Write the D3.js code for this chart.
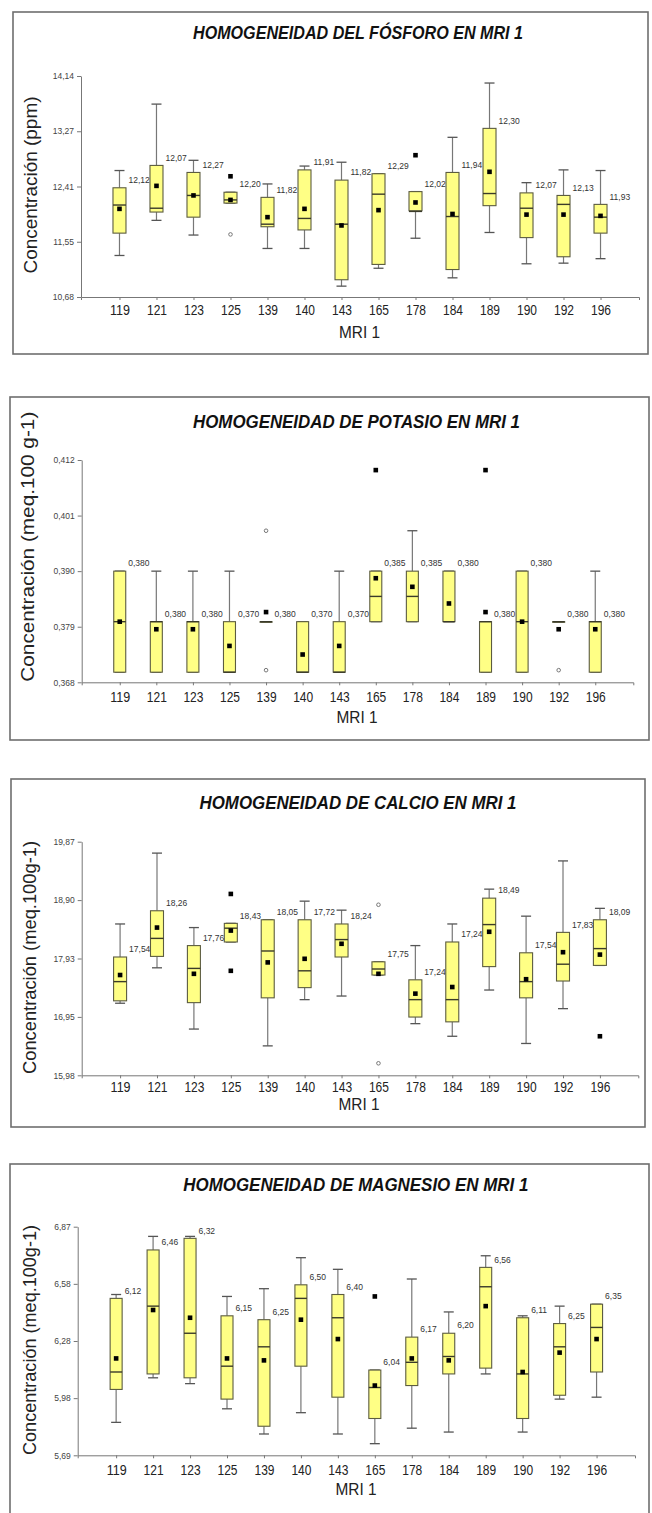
<!DOCTYPE html>
<html><head><meta charset="utf-8">
<script src="https://cdn.jsdelivr.net/npm/d3@7/dist/d3.min.js"></script>
<style>body{margin:0;background:#fff} svg{display:block}</style>
</head><body>
<svg id="chart" width="652" height="1513"></svg>
<script>
// ---------------- DATA ----------------
const categories = ["119","121","123","125","139","140","143","165","178","184","189","190","192","196"];

// Fósforo (ppm)
const fosforoTicks      = [10.68, 11.545, 12.41, 13.275, 14.14];
const fosforoTickLabels = ["10,68","11,55","12,41","13,27","14,14"];
const fosforoLow    = [11.33,11.88,11.65,12.15,11.44,11.44,10.85,11.13,11.60,10.98,11.69,11.20,11.21,11.28];
const fosforoQ1     = [11.68,12.01,11.93,12.15,11.78,11.73,10.95,11.19,12.03,11.11,12.11,11.61,11.31,11.68];
const fosforoMedian = [12.12,12.07,12.27,12.20,11.82,11.91,11.82,12.29,12.02,11.94,12.30,12.07,12.13,11.93];
const fosforoQ3     = [12.39,12.74,12.63,12.32,12.24,12.67,12.51,12.61,12.33,12.63,13.32,12.31,12.27,12.13];
const fosforoHigh   = [12.66,13.70,12.82,12.32,12.45,12.73,12.79,12.61,12.33,13.18,14.03,12.47,12.67,12.66];
const fosforoMean   = [12.06,12.42,12.27,12.20,11.93,12.06,11.80,12.04,12.16,11.98,12.64,11.97,11.97,11.95];
const fosforoOutliers = [["125",12.57,"far"],["125",11.66,"near"],["178",12.90,"far"]];

// Potasio (meq.100 g-1)
const potasioTicks      = [0.368, 0.379, 0.390, 0.401, 0.412];
const potasioTickLabels = ["0,368","0,379","0,390","0,401","0,412"];
const potasioLow    = [0.370,0.370,0.370,0.370,0.380,0.370,0.370,0.380,0.380,0.380,0.370,0.370,0.380,0.370];
const potasioQ1     = [0.370,0.370,0.370,0.370,0.380,0.370,0.370,0.380,0.380,0.380,0.370,0.370,0.380,0.370];
const potasioMedian = [0.380,0.380,0.380,0.370,0.380,0.370,0.370,0.385,0.385,0.380,0.380,0.380,0.380,0.380];
const potasioQ3     = [0.390,0.380,0.380,0.380,0.380,0.380,0.380,0.390,0.390,0.390,0.380,0.390,0.380,0.380];
const potasioHigh   = [0.390,0.390,0.390,0.390,0.380,0.380,0.390,0.390,0.398,0.390,0.380,0.390,0.380,0.390];
const potasioMean   = [0.380,0.3785,0.3785,0.3752,0.3819,0.3735,0.3752,0.3886,0.3869,0.3836,0.3819,0.380,0.3785,0.3785];
const potasioOutliers = [["139",0.398,"near"],["139",0.3704,"near"],["165",0.410,"far"],["189",0.410,"far"],["192",0.3704,"near"]];

// Calcio (meq.100g-1)
const calcioTicks      = [15.98, 16.9525, 17.925, 18.8975, 19.87];
const calcioTickLabels = ["15,98","16,95","17,93","18,90","19,87"];
const calcioLow    = [17.18,17.77,16.75,18.20,16.47,17.24,17.30,17.65,16.84,16.63,17.40,16.51,17.09,17.81];
const calcioQ1     = [17.22,17.96,17.19,18.20,17.27,17.44,17.95,17.65,16.95,16.87,17.79,17.27,17.55,17.81];
const calcioMedian = [17.54,18.26,17.76,18.43,18.05,17.72,18.24,17.75,17.24,17.24,18.49,17.54,17.83,18.09];
const calcioQ3     = [17.95,18.72,18.14,18.51,18.57,18.57,18.50,17.87,17.57,18.20,18.93,18.02,18.36,18.57];
const calcioHigh   = [18.50,19.68,18.44,18.51,18.57,18.88,18.73,17.87,18.14,18.50,19.08,18.63,19.55,18.76];
const calcioMean   = [17.65,18.44,17.67,18.39,17.86,17.92,18.17,17.67,17.34,17.45,18.37,17.58,18.03,17.99];
const calcioOutliers = [["125",19.00,"far"],["125",17.72,"far"],["165",18.82,"near"],["165",16.18,"near"],["196",16.63,"far"]];

// Magnesio (meq.100g-1)
const magnesioTicks      = [5.69, 5.985, 6.28, 6.575, 6.87];
const magnesioTickLabels = ["5,69","5,98","6,28","6,58","6,87"];
const magnesioLow    = [5.86,6.09,6.06,5.93,5.80,5.91,5.80,5.75,5.83,5.81,6.11,5.81,5.98,5.99];
const magnesioQ1     = [6.03,6.11,6.09,5.98,5.84,6.15,5.99,5.88,6.05,6.11,6.14,5.88,6.00,6.12];
const magnesioMedian = [6.12,6.46,6.32,6.15,6.25,6.50,6.40,6.04,6.17,6.20,6.56,6.11,6.25,6.35];
const magnesioQ3     = [6.50,6.75,6.81,6.41,6.39,6.57,6.52,6.13,6.30,6.32,6.66,6.40,6.37,6.47];
const magnesioHigh   = [6.52,6.82,6.82,6.51,6.55,6.71,6.65,6.13,6.60,6.43,6.72,6.41,6.46,6.47];
const magnesioMean   = [6.19,6.44,6.40,6.19,6.18,6.39,6.29,6.05,6.19,6.18,6.46,6.12,6.22,6.29];
const magnesioOutliers = [["165",6.51,"far"]];

const titles  = ["HOMOGENEIDAD DEL FÓSFORO EN MRI 1","HOMOGENEIDAD DE POTASIO EN MRI 1","HOMOGENEIDAD DE CALCIO EN MRI 1","HOMOGENEIDAD DE MAGNESIO EN MRI 1"];
const yLabels = ["Concentración (ppm)","Concentración (meq.100 g-1)","Concentración (meq.100g-1)","Concentración (meq.100g-1)"];
const xLabel  = "MRI 1";

// ---------------- LAYOUT ----------------
const layouts = [
  {frame:[13,12,648,354],  x0:81,  x1:639,  yTop:76,    yBot:297,    titleY:39.3,  titleX:358,  titleLen:330, yLabX:36.7, yLabY:185,   yLabLen:177, yLabSize:18, xLabY:338.3, xLabX:359.5, tickPad:5,   bw:13, decimals:2},
  {frame:[10,397,649,740], x0:81.7,x1:633.3,yTop:460,   yBot:682.3,  titleY:428.3, titleX:356.5,titleLen:327, yLabX:34.3, yLabY:546.7, yLabLen:270, yLabSize:19, xLabY:723.3, xLabX:357,   tickPad:6.5, bw:12, decimals:3},
  {frame:[11,779,645,1127],x0:81.7,x1:638.3,yTop:841.7, yBot:1075.3, titleY:809.3, titleX:358,  titleLen:317, yLabX:36,   yLabY:957.5, yLabLen:233, yLabSize:18, xLabY:1109.5,xLabX:359,   tickPad:4,   bw:13, decimals:2},
  {frame:[10,1164,649,1540],x0:77.7,x1:635, yTop:1226.7,yBot:1455.3, titleY:1190.7,titleX:355.8,titleLen:345, yLabX:36,   yLabY:1340,  yLabLen:230, yLabSize:18, xLabY:1495,  xLabX:356,   tickPad:7,   bw:12, decimals:2}
];

const panels = [
  {ticks:fosforoTicks, tickLabels:fosforoTickLabels, low:fosforoLow, q1:fosforoQ1, med:fosforoMedian, q3:fosforoQ3, high:fosforoHigh, mean:fosforoMean, outliers:fosforoOutliers},
  {ticks:potasioTicks, tickLabels:potasioTickLabels, low:potasioLow, q1:potasioQ1, med:potasioMedian, q3:potasioQ3, high:potasioHigh, mean:potasioMean, outliers:potasioOutliers},
  {ticks:calcioTicks, tickLabels:calcioTickLabels, low:calcioLow, q1:calcioQ1, med:calcioMedian, q3:calcioQ3, high:calcioHigh, mean:calcioMean, outliers:calcioOutliers},
  {ticks:magnesioTicks, tickLabels:magnesioTickLabels, low:magnesioLow, q1:magnesioQ1, med:magnesioMedian, q3:magnesioQ3, high:magnesioHigh, mean:magnesioMean, outliers:magnesioOutliers}
];

// ---------------- DRAW ----------------
const FONT = "'Liberation Sans', Arial, Helvetica, sans-serif";
const svg = d3.select("#chart");

panels.forEach((p, pi) => {
  const L = layouts[pi];
  const g = svg.append("g");

  g.append("rect")
    .attr("x", L.frame[0]).attr("y", L.frame[1])
    .attr("width", L.frame[2] - L.frame[0]).attr("height", L.frame[3] - L.frame[1])
    .attr("fill", "none").attr("stroke", "#6e6e6e").attr("stroke-width", 1.6);

  const x = d3.scalePoint().domain(categories).range([L.x0, L.x1]).padding(1.04);
  const y = d3.scaleLinear().domain([p.ticks[0], p.ticks[p.ticks.length - 1]]).range([L.yBot, L.yTop]);

  // title
  g.append("text")
    .attr("x", L.titleX).attr("y", L.titleY)
    .attr("text-anchor", "middle")
    .attr("font-family", FONT).attr("font-size", 17.5)
    .attr("font-weight", "bold").attr("font-style", "italic")
    .attr("fill", "#111")
    .attr("textLength", L.titleLen).attr("lengthAdjust", "spacingAndGlyphs")
    .text(titles[pi]);

  // y axis
  const ya = g.append("g").attr("transform", `translate(${L.x0},0)`)
    .call(d3.axisLeft(y).tickValues(p.ticks).tickFormat((d, i) => p.tickLabels[i])
      .tickSize(4).tickSizeOuter(0).tickPadding(3));
  ya.select(".domain").attr("stroke", "#777");
  ya.selectAll(".tick line").attr("stroke", "#777");
  ya.selectAll(".tick text").attr("font-family", FONT).attr("font-size", 8.5).attr("fill", "#444");

  // x axis
  const xa = g.append("g").attr("transform", `translate(0,${L.yBot})`)
    .call(d3.axisBottom(x).tickSize(3).tickSizeOuter(3).tickPadding(L.tickPad));
  xa.select(".domain").attr("stroke", "#777");
  xa.selectAll(".tick line").attr("stroke", "#777");
  xa.selectAll(".tick text").attr("font-family", FONT).attr("font-size", 14).attr("fill", "#222")
    .attr("textLength", 20).attr("lengthAdjust", "spacingAndGlyphs");

  // axis titles
  g.append("text")
    .attr("transform", `translate(${L.yLabX},${L.yLabY}) rotate(-90)`)
    .attr("text-anchor", "middle")
    .attr("font-family", FONT).attr("font-size", L.yLabSize).attr("fill", "#222")
    .attr("textLength", L.yLabLen).attr("lengthAdjust", "spacingAndGlyphs")
    .text(yLabels[pi]);
  g.append("text")
    .attr("x", L.xLabX).attr("y", L.xLabY)
    .attr("text-anchor", "middle")
    .attr("font-family", FONT).attr("font-size", 17).attr("fill", "#222")
    .attr("textLength", 41).attr("lengthAdjust", "spacingAndGlyphs")
    .text(xLabel);

  const rows = categories.map((c, i) => ({c, low:p.low[i], q1:p.q1[i], med:p.med[i], q3:p.q3[i], high:p.high[i], mean:p.mean[i]}));
  const bw = L.bw, cap = 10;
  const fmt = v => d3.format("." + L.decimals + "f")(v).replace(".", ",");

  const box = g.append("g").selectAll("g").data(rows).join("g");
  // whiskers
  box.append("line").attr("x1", d => x(d.c)).attr("x2", d => x(d.c))
    .attr("y1", d => y(d.high)).attr("y2", d => y(d.q3)).attr("stroke", "#777").attr("stroke-width", 1.2);
  box.append("line").attr("x1", d => x(d.c)).attr("x2", d => x(d.c))
    .attr("y1", d => y(d.q1)).attr("y2", d => y(d.low)).attr("stroke", "#777").attr("stroke-width", 1.2);
  box.append("line").attr("x1", d => x(d.c) - cap/2).attr("x2", d => x(d.c) + cap/2)
    .attr("y1", d => y(d.high)).attr("y2", d => y(d.high)).attr("stroke", "#555").attr("stroke-width", 1.3);
  box.append("line").attr("x1", d => x(d.c) - cap/2).attr("x2", d => x(d.c) + cap/2)
    .attr("y1", d => y(d.low)).attr("y2", d => y(d.low)).attr("stroke", "#555").attr("stroke-width", 1.3);
  // box
  box.append("rect")
    .attr("x", d => x(d.c) - bw/2).attr("width", bw)
    .attr("y", d => y(d.q3)).attr("height", d => Math.max(y(d.q1) - y(d.q3), 0.6))
    .attr("fill", "#ffff85").attr("stroke", "#5c5c40").attr("stroke-width", 1.1);
  // median
  box.append("line").attr("x1", d => x(d.c) - bw/2).attr("x2", d => x(d.c) + bw/2)
    .attr("y1", d => y(d.med)).attr("y2", d => y(d.med)).attr("stroke", "#3a3a2a").attr("stroke-width", 1.4);
  // mean
  box.append("rect").attr("x", d => x(d.c) - 2.3).attr("y", d => y(d.mean) - 2.3)
    .attr("width", 4.6).attr("height", 4.6).attr("fill", "#000");
  // median label
  box.append("text")
    .attr("x", d => x(d.c) + bw/2 + 2.5).attr("y", d => y(d.q3) - 4.8)
    .attr("font-family", FONT).attr("font-size", 8.5).attr("fill", "#333")
    .text(d => fmt(d.med));

  // outliers
  g.append("g").selectAll("g").data(p.outliers).join(enter => {
    const o = enter.append("g");
    o.filter(d => d[2] === "far").append("rect")
      .attr("x", d => x(d[0]) - 2.3).attr("y", d => y(d[1]) - 2.3)
      .attr("width", 4.6).attr("height", 4.6).attr("fill", "#000");
    o.filter(d => d[2] === "near").append("circle")
      .attr("cx", d => x(d[0])).attr("cy", d => y(d[1])).attr("r", 1.8)
      .attr("fill", "#fff").attr("stroke", "#777").attr("stroke-width", 1);
    return o;
  });
});
</script>
</body></html>
